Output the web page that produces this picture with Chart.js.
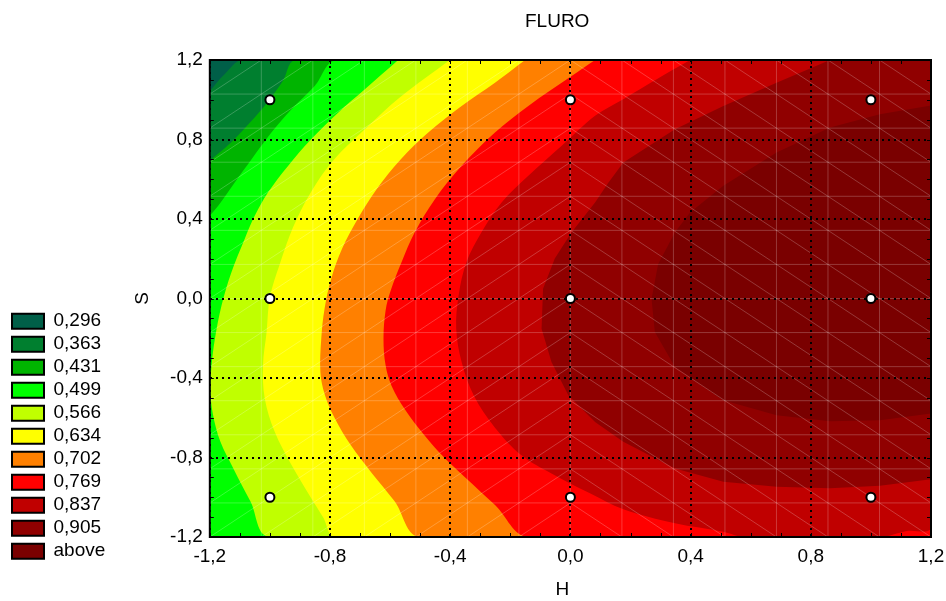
<!DOCTYPE html>
<html>
<head>
<meta charset="utf-8">
<title>FLURO</title>
<script src="https://cdn.jsdelivr.net/npm/chart.js@4.4.1/dist/chart.umd.min.js"></script>
<style>
  html, body { margin: 0; padding: 0; background: #fff; }
  #wrap { width: 946px; height: 601px; }
</style>
</head>
<body>
<div id="wrap"><canvas id="fluro-contour"></canvas></div>
<script>
/* global Chart */
(function () {
    'use strict';

    // contour levels (upper bound of each band) and their fill colours
    var levelLabels = ['0,296', '0,363', '0,431', '0,499', '0,566', '0,634', '0,702', '0,769', '0,837', '0,905', 'above'];
    var levelColors = ['#005f48', '#007f2f', '#00b400', '#00ff00', '#c0ff00', '#ffff00', '#ff8000', '#ff0000', '#c00000', '#900000', '#7a0000'];

    // design points (H, S)
    var designH = [-1, 0, 1, -1, 0, 1, -1, 0, 1];
    var designS = [1, 1, 1, 0, 0, 0, -1, -1, -1];

    // regions of the fitted surface, [H, S] outlines; each one holds everything above its level
    var domain = [[-1.2, -1.2], [-1.2, 1.2], [1.2, 1.2], [1.2, -1.2]];
    var over0296 = [[-1.2, 1.044], [-1.15, 1.13], [-1.09, 1.2], [1.2, 1.2], [1.2, -1.2], [-1.2, -1.2]];
    var over0363 = [[-1.2, 0.693], [-1.134, 0.778], [-1.067, 0.884], [-1.007, 0.989], [-0.957, 1.094], [-0.913, 1.2],
        [1.2, 1.2], [1.2, -1.2], [-1.2, -1.2]];
    var over0431 = [[-1.2, 0.417], [-1.172, 0.467], [-1.117, 0.584], [-1.061, 0.701], [-0.995, 0.835], [-0.928, 0.952],
        [-0.851, 1.069], [-0.777, 1.2], [1.2, 1.2], [1.2, -1.2], [-1.2, -1.2]];
    var over0499 = [[-0.573, 1.2], [-0.684, 1.053], [-0.773, 0.935], [-0.862, 0.802], [-0.939, 0.668], [-1.006, 0.534],
        [-1.05, 0.417], [-1.084, 0.3], [-1.128, 0.132], [-1.161, -0.035], [-1.183, -0.202], [-1.194, -0.336],
        [-1.198, -0.462], [-1.19, -0.58], [-1.165, -0.72], [-1.12, -0.86], [-1.065, -1.02], [-1.0, -1.2],
        [1.2, -1.2], [1.2, 1.2]];
    var over0566 = [[-0.401, 1.2], [-0.568, 1.011], [-0.678, 0.86], [-0.79, 0.693], [-0.867, 0.526], [-0.923, 0.358],
        [-0.967, 0.174], [-1.0, 0.007], [-1.011, -0.169], [-1.023, -0.336], [-1.017, -0.504], [-0.984, -0.671],
        [-0.928, -0.838], [-0.862, -1.006], [-0.823, -1.1], [-0.782, -1.2], [1.2, -1.2], [1.2, 1.2]];
    var over0634 = [[-0.151, 1.2], [-0.251, 1.086], [-0.362, 0.969], [-0.473, 0.835], [-0.565, 0.7], [-0.645, 0.55],
        [-0.708, 0.4], [-0.76, 0.25], [-0.796, 0.1], [-0.818, -0.05], [-0.829, -0.2], [-0.832, -0.37],
        [-0.818, -0.48], [-0.785, -0.6], [-0.73, -0.74], [-0.66, -0.88], [-0.585, -1.02], [-0.5, -1.2],
        [1.2, -1.2], [1.2, 1.2]];
    var over0702 = [[0.082, 1.2], [0.004, 1.119], [-0.14, 0.969], [-0.251, 0.835], [-0.362, 0.668], [-0.451, 0.5],
        [-0.518, 0.333], [-0.562, 0.182], [-0.598, 0.04], [-0.615, -0.06], [-0.622, -0.202], [-0.615, -0.336],
        [-0.595, -0.44], [-0.55, -0.56], [-0.49, -0.68], [-0.42, -0.8], [-0.35, -0.9], [-0.25, -1.04], [-0.14, -1.2],
        [1.2, -1.2], [1.2, 1.2]];
    var over0769 = [[0.398, 1.2], [0.287, 1.103], [0.176, 1.003], [0.082, 0.919], [-0.029, 0.768], [-0.14, 0.617],
        [-0.229, 0.483], [-0.296, 0.333], [-0.346, 0.182], [-0.372, 0.015], [-0.38, -0.152], [-0.362, -0.32],
        [-0.322, -0.487], [-0.251, -0.65], [-0.162, -0.79], [-0.063, -0.88], [0.065, -0.98], [0.176, -1.06],
        [0.348, -1.131], [0.509, -1.173], [0.58, -1.2], [1.03, -1.2], [1.12, -1.17], [1.2, -1.15], [1.2, 1.2]];
    var over0837 = [[0.864, 1.2], [0.686, 1.086], [0.509, 0.969], [0.348, 0.852], [0.176, 0.684], [0.125, 0.58],
        [0.082, 0.483], [0.004, 0.333], [-0.052, 0.201], [-0.091, 0.049], [-0.096, -0.152], [-0.063, -0.32],
        [-0.007, -0.487], [0.082, -0.621], [0.176, -0.721], [0.348, -0.855], [0.509, -0.922], [0.686, -0.947],
        [0.864, -0.955], [1.03, -0.942], [1.2, -0.909], [1.2, 1.2]];
    var over0905 = [[1.2, 0.971], [1.03, 0.927], [0.864, 0.86], [0.686, 0.734], [0.509, 0.567], [0.398, 0.433],
        [0.348, 0.333], [0.292, 0.174], [0.27, -0.002], [0.281, -0.169], [0.348, -0.345], [0.509, -0.512],
        [0.686, -0.587], [0.864, -0.617], [1.03, -0.612], [1.2, -0.579]];

    var regions = [domain, over0296, over0363, over0431, over0499, over0566, over0634, over0702, over0769, over0837, over0905];

    var FONT = "'Liberation Sans', Arial, sans-serif";
    var MESH_CELLS = 14;

    Chart.defaults.font.family = FONT;
    Chart.defaults.color = '#000';

    function isMajor(v) { return Math.round(v * 10) % 4 === 0; }

    function tickText(v) {
        var k = Math.round(v * 10);
        if (k % 4 !== 0) { return ''; }
        return (k / 10).toFixed(1).replace('.', ',');
    }

    function toXY(poly) {
        return poly.map(function (p) { return { x: p[0], y: p[1] }; });
    }

    // faint triangulation lines of the surface, drawn over the filled bands
    var surfaceMesh = {
        id: 'surfaceMesh',
        beforeDraw: function (chart) {
            var ctx = chart.ctx, xs = chart.scales.x, ys = chart.scales.y, a = chart.chartArea;
            var dx = (xs.max - xs.min) / MESH_CELLS, dy = (ys.max - ys.min) / MESH_CELLS;
            var i, j, x0, x1, y0, y1;
            ctx.save();
            ctx.beginPath();
            ctx.rect(a.left, a.top, a.right - a.left, a.bottom - a.top);
            ctx.clip();
            ctx.strokeStyle = 'rgba(255,255,255,0.22)';
            ctx.lineWidth = 1;
            ctx.beginPath();
            for (i = 0; i <= MESH_CELLS; i++) {
                x0 = xs.getPixelForValue(xs.min + i * dx);
                y0 = ys.getPixelForValue(ys.min + i * dy);
                ctx.moveTo(x0, a.top); ctx.lineTo(x0, a.bottom);
                ctx.moveTo(a.left, y0); ctx.lineTo(a.right, y0);
            }
            for (i = 0; i < MESH_CELLS; i++) {
                x0 = xs.getPixelForValue(xs.min + i * dx);
                x1 = xs.getPixelForValue(xs.min + (i + 1) * dx);
                for (j = 0; j < MESH_CELLS; j++) {
                    y0 = ys.getPixelForValue(ys.min + j * dy);
                    y1 = ys.getPixelForValue(ys.min + (j + 1) * dy);
                    if (i < MESH_CELLS / 2) { ctx.moveTo(x0, y0); ctx.lineTo(x1, y1); }
                    else { ctx.moveTo(x0, y1); ctx.lineTo(x1, y0); }
                }
            }
            ctx.stroke();
            ctx.restore();
        }
    };

    // closed frame with inward tick marks on all four sides
    var plotFrame = {
        id: 'plotFrame',
        afterDatasetsDraw: function (chart) {
            var ctx = chart.ctx, a = chart.chartArea, xs = chart.scales.x, ys = chart.scales.y;
            ctx.save();
            ctx.strokeStyle = '#000';
            ctx.lineWidth = 1;
            ctx.beginPath();
            xs.ticks.forEach(function (t) {
                var px = Math.round(xs.getPixelForValue(t.value)) + 0.5;
                ctx.moveTo(px, a.bottom); ctx.lineTo(px, a.bottom - 4);
                ctx.moveTo(px, a.top); ctx.lineTo(px, a.top + 4);
            });
            ys.ticks.forEach(function (t) {
                var py = Math.round(ys.getPixelForValue(t.value)) + 0.5;
                ctx.moveTo(a.left, py); ctx.lineTo(a.left + 4, py);
                ctx.moveTo(a.right, py); ctx.lineTo(a.right - 4, py);
            });
            ctx.stroke();
            ctx.lineWidth = 2;
            ctx.strokeRect(a.left, a.top, a.right - a.left, a.bottom - a.top);
            ctx.restore();
        }
    };

    var datasets = [{
        label: 'design points',
        data: designH.map(function (h, i) { return { x: h, y: designS[i] }; }),
        showLine: false,
        fill: false,
        pointRadius: 4.5,
        pointBackgroundColor: '#ffffff',
        pointBorderColor: '#000000',
        pointBorderWidth: 2
    }];
    // highest band first: the filler paints from the last dataset back to the first
    for (var k = regions.length - 1; k >= 0; k--) {
        datasets.push({
            label: levelLabels[k],
            data: toXY(regions[k]),
            fill: 'shape',
            backgroundColor: levelColors[k],
            borderColor: 'transparent',
            borderWidth: 0,
            pointRadius: 0,
            tension: k < 9 ? 0.35 : 0
        });
    }

    function axis(titleText, titlePadding, tickPadding, tickLineHeight) {
        return {
            type: 'linear',
            min: -1.2,
            max: 1.2,
            ticks: { stepSize: 0.1, maxTicksLimit: 30, autoSkip: false, maxRotation: 0, padding: tickPadding,
                callback: tickText, font: { size: 19, lineHeight: tickLineHeight }, color: '#000' },
            grid: {
                color: function (c) { return isMajor(c.tick.value) ? '#000' : 'rgba(0,0,0,0)'; },
                lineWidth: 2,
                drawTicks: false
            },
            border: { display: false, dash: [2, 4] },
            title: { display: true, text: titleText, color: '#000', font: { size: 19 }, padding: titlePadding }
        };
    }

    new Chart(document.getElementById('fluro-contour'), {
        type: 'line',
        data: { datasets: datasets },
        options: {
            responsive: true,
            maintainAspectRatio: false,
            animation: false,
            events: [],
            layout: { padding: { left: 8, right: 15, top: 0, bottom: 0 } },
            scales: {
                // trailing no-break spaces nudge the centred axis title a little to the left
                x: axis('H\u00a0\u00a0\u00a0', { top: 1.3, bottom: 0 }, 0, 2.1),
                y: axis('S', { top: 16, bottom: 9 }, 7, 1.2)
            },
            plugins: {
                filler: { drawTime: 'beforeDraw' },
                tooltip: { enabled: false },
                title: { display: true, text: 'FLURO\u00a0\u00a0\u00a0\u00a0\u00a0', fullSize: false, color: '#000',
                    font: { size: 19, weight: 'normal' }, padding: { top: 10.6, bottom: 26.6 } },
                legend: {
                    position: 'left',
                    align: 'center',
                    title: { display: true, text: '', padding: { top: 0, bottom: 257 } },
                    labels: {
                        boxWidth: 32,
                        boxHeight: 15,
                        padding: 4,
                        color: '#000',
                        font: { size: 19 },
                        generateLabels: function () {
                            return levelLabels.map(function (t, i) {
                                return { text: t, fillStyle: levelColors[i], strokeStyle: '#000', lineWidth: 2,
                                    hidden: false, datasetIndex: -1 };
                            });
                        }
                    }
                }
            }
        },
        plugins: [surfaceMesh, plotFrame]
    });
})();
</script>
</body>
</html>
